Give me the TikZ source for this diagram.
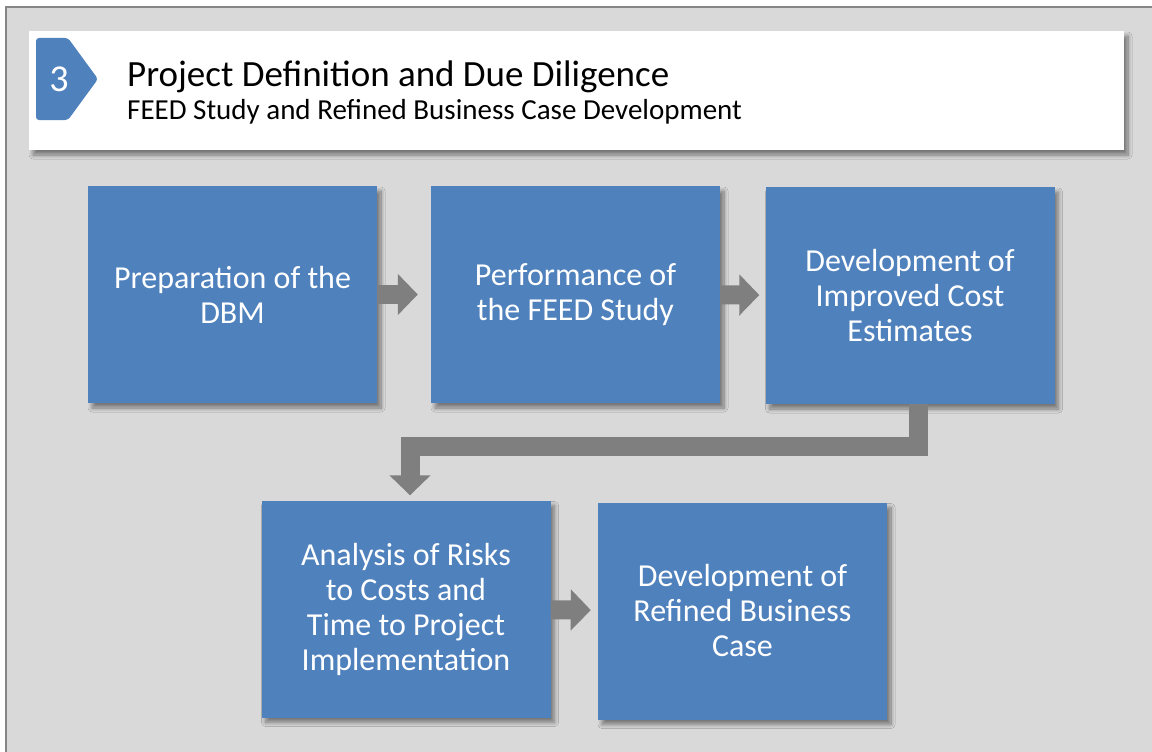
\documentclass[tikz,border=0pt]{standalone}
\usepackage{fontspec}
\setmainfont{Carlito}
\usepackage{tikz}
\usetikzlibrary{arrows.meta}
\usetikzlibrary{shadows.blur}

\definecolor{stepblue}{HTML}{4F81BD}
\definecolor{panelgray}{HTML}{D9D9D9}
\definecolor{framegray}{HTML}{868686}
\definecolor{flowgray}{HTML}{7F7F7F}

\tikzset{
  softshadow/.style={blur shadow={shadow xshift=4pt, shadow yshift=-5pt,
    shadow blur radius=4pt, shadow blur steps=10, shadow opacity=45}},
  stepbox/.style={fill=stepblue, text=white, minimum width=289, minimum height=217,
    align=center, font=\fontsize{32}{35}\selectfont, softshadow},
  flowarrow/.style={draw=flowgray, line width=19pt, -{Triangle[width=40pt,length=20pt]}}
}

\begin{document}
\begin{tikzpicture}[x=1pt,y=-1pt]
\useasboundingbox (0,0) rectangle (1152,752);
\fill[white] (0,0) rectangle (1152,752);
\fill[panelgray] (6,7) rectangle (1152,752);
\draw[framegray, line width=2pt] (6,752) -- (6,7) -- (1152,7);

% title band
\fill[white, softshadow] (29,31) rectangle (1124,150);
\fill[stepblue, rounded corners=3pt] (36,38) -- (68,38) -- (98,79) -- (68,120) -- (36,120) -- cycle;
\node[text=white, font=\fontsize{38}{40}\selectfont] (num) at (59,79) {3};
\node[anchor=base west, inner sep=0, font=\fontsize{37}{40}\selectfont] (title) at (127,87)
  {Project Definition and Due Diligence};
\node[anchor=base west, inner sep=0, font=\fontsize{29}{30}\selectfont] (subtitle) at (127,119)
  {FEED Study and Refined Business Case Development};

% steps
\node[stepbox] (dbm) at (232.5,294.5) {Preparation of the\\DBM};
\node[stepbox] (feed) at (575.5,294.5) {Performance of\\the FEED Study};
\node[stepbox] (cost) at (910,295.5) {Development of\\Improved Cost\\Estimates};
\node[stepbox] (risk) at (406,609) {Analysis of Risks\\to Costs and\\Time to Project\\Implementation};
\node[stepbox] (case) at (742.5,611) {Development of\\Refined Business\\Case};

\draw[flowarrow, shorten >=13pt] (dbm) -- (feed);
\draw[flowarrow, shorten >=6pt] (feed) -- (cost);
\draw[flowarrow] ([xshift=8pt]cost.south) -- ++(0,42) -| ([xshift=4pt,yshift=5pt]risk.north);
\draw[flowarrow, shorten >=7pt] (risk) -- (case);
\end{tikzpicture}
\end{document}
